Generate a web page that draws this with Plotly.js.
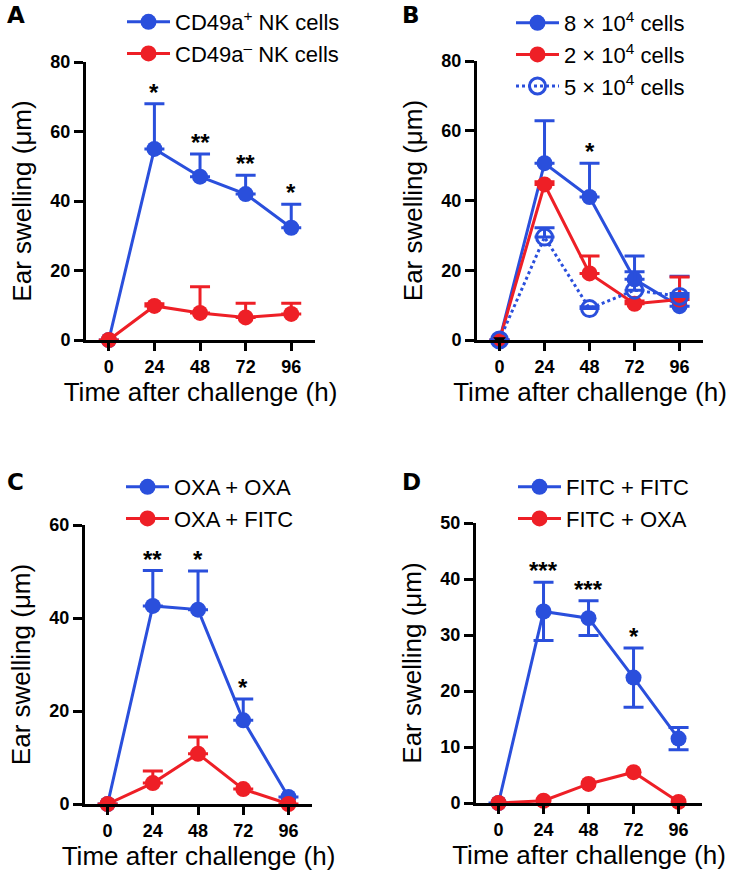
<!DOCTYPE html>
<html>
<head>
<meta charset="utf-8">
<script src="https://cdn.plot.ly/plotly-3.0.1.min.js"></script>
<style>html,body{margin:0;padding:0;background:#fff}#chart{width:738px;height:879px}</style>
</head>
<body>
<div id="chart"></div>
<script>
// ---------- data ----------
const hours = [0, 24, 48, 72, 96];
const hourTicks = ['0', '24', '48', '72', '96'];

// Panel A
const aNames = ['CD49a<sup>+</sup> NK cells', 'CD49a<sup>–</sup> NK cells'];
const aPos = [0, 55, 47, 42, 32.3];
const aPosErr = [0, 13, 6.5, 5.4, 6.8];
const aNeg = [0, 9.8, 7.8, 6.5, 7.5];
const aNegErr = [0, 0.6, 7.5, 4.1, 3.1];
const aStars = ['', '*', '**', '**', '*'];
const aTicks = [0, 20, 40, 60, 80];

// Panel B
const bNames = ['8 × 10<sup>4</sup> cells', '2 × 10<sup>4</sup> cells', '5 × 10<sup>4</sup> cells'];
const b8 = [0, 50.7, 41, 17.4, 9.7];
const b8Err = [0, 12.2, 9.7, 6.7, 8.6];
const b2 = [0, 44.6, 19.1, 10.4, 11.6];
const b2Err = [0, 0.8, 5, 0.8, 6.5];
const b5 = [0, 29.5, 9, 14.3, 12.5];
const b5Err = [0, 2.7, 0.5, 5.3, 0.8];
const bTriX = [0];
const bTriY = [0];
const bStars = ['', '', '*', '', ''];
const bTicks = [0, 20, 40, 60, 80];

// Panel C
const cNames = ['OXA + OXA', 'OXA + FITC'];
const c1 = [0, 42.6, 41.8, 18, 1.5];
const c1Err = [0, 7.6, 8.3, 4.6, 0];
const c2 = [0, 4.5, 10.8, 3.2, 0];
const c2Err = [0, 2.6, 3.6, 0, 0];
const cStars = ['', '**', '*', '*', ''];
const cTicks = [0, 20, 40, 60];

// Panel D
const dNames = ['FITC + FITC', 'FITC + OXA'];
const d1 = [0, 34.2, 33, 22.4, 11.5];
const d1Err = [0, 5.2, 3.1, 5.3, 2];
const d2 = [0, 0.4, 3.4, 5.5, 0.2];
const dStars = ['', '***', '***', '*', ''];
const dTicks = [0, 10, 20, 30, 40, 50];

const panelLetters = ['A', 'B', 'C', 'D'];

// ---------- style ----------
const BLUE = '#2a4fdc';
const RED = '#ee1f26';
const W = 738, H = 879;
const FONT = 'Liberation Sans, Arial, sans-serif';

function ser(x, y, err, color, name, xa, ya, legend, opts) {
  opts = opts || {};
  const t = {
    type: 'scatter', mode: 'lines+markers', x: x, y: y, name: name,
    xaxis: xa, yaxis: ya, legend: legend, cliponaxis: false,
    line: {color: color, width: 3, dash: opts.dash || 'solid'},
    marker: {color: color, size: 16, symbol: opts.open ? 'circle-open' : 'circle',
             line: {color: color, width: opts.open ? 3 : 0}},
    showlegend: true
  };
  if (err) {
    t.error_y = {type: 'data', array: err, symmetric: !!opts.sym,
                 arrayminus: opts.sym ? err : err.map(() => 0),
                 color: color, thickness: 3, width: 10};
  }
  return t;
}

const traces = [
  ser(hours, aPos, aPosErr, BLUE, aNames[0], 'x', 'y', 'legend'),
  ser(hours, aNeg, aNegErr, RED, aNames[1], 'x', 'y', 'legend'),

  ser(hours, b8, b8Err, BLUE, bNames[0], 'x2', 'y2', 'legend2'),
  ser(hours, b2, b2Err, RED, bNames[1], 'x2', 'y2', 'legend2'),
  ser(hours, b5, b5Err, BLUE, bNames[2], 'x2', 'y2', 'legend2', {dash: 'dot', open: true}),
  {type: 'scatter', mode: 'markers', x: bTriX, y: bTriY, xaxis: 'x2', yaxis: 'y2', showlegend: false,
   cliponaxis: false, marker: {symbol: 'triangle-down', color: 'black', size: 11}},

  ser(hours, c1, c1Err, BLUE, cNames[0], 'x3', 'y3', 'legend3'),
  ser(hours, c2, c2Err, RED, cNames[1], 'x3', 'y3', 'legend3'),

  ser(hours, d1, d1Err, BLUE, dNames[0], 'x4', 'y4', 'legend4', {sym: true}),
  ser(hours, d2, null, RED, dNames[1], 'x4', 'y4', 'legend4')
];

function xAxis(x0, x1, anchor) {
  return {
    domain: [x0 / W, x1 / W], anchor: anchor, range: [-12, 108.5],
    tickmode: 'array', tickvals: hours, ticktext: hourTicks,
    showline: true, linewidth: 3, linecolor: 'black', mirror: false,
    ticks: 'outside', ticklen: 8, tickwidth: 3, tickcolor: 'black',
    showgrid: false, zeroline: false,
    tickfont: {family: FONT, size: 18, weight: 'bold', color: 'black'},
    title: {text: 'Time after challenge (h)', font: {family: FONT, size: 26, color: 'black'}, standoff: 6},
    automargin: true, fixedrange: true
  };
}
function yAxis(yb, yt, top, ticks, anchor) {
  return {
    domain: [1 - yb / H, 1 - yt / H], anchor: anchor, range: [0, top],
    tickmode: 'array', tickvals: ticks,
    showline: true, linewidth: 3, linecolor: 'black',
    ticks: 'outside', ticklen: 9, tickwidth: 3, tickcolor: 'black',
    showgrid: false, zeroline: false,
    tickfont: {family: FONT, size: 18, weight: 'bold', color: 'black'},
    title: {text: 'Ear swelling (μm)', font: {family: FONT, size: 26, color: 'black'}, standoff: 12},
    automargin: true, fixedrange: true
  };
}

function legendAt(px, py) {
  return {
    x: px / W, y: 1 - py / H, xanchor: 'left', yanchor: 'top',
    bgcolor: 'rgba(0,0,0,0)', borderwidth: 0, itemwidth: 43,
    font: {family: FONT, size: 22, color: 'black'}, tracegroupgap: 0
  };
}

const annotations = [];
function stars(list, vals, errs, xa, ya) {
  list.forEach((s, i) => {
    if (!s) return;
    annotations.push({
      x: hours[i], y: vals[i] + errs[i], xref: xa, yref: ya, text: s,
      showarrow: false, yanchor: 'bottom', yshift: -4,
      font: {family: FONT, size: 24, weight: 'bold', color: 'black'}
    });
  });
}
stars(aStars, aPos, aPosErr, 'x', 'y');
stars(bStars, b8, b8Err, 'x2', 'y2');
stars(cStars, c1, c1Err, 'x3', 'y3');
stars(dStars, d1, d1Err, 'x4', 'y4');

const letterPos = [[5, 0], [400, 0], [5, 467], [400, 467]];
panelLetters.forEach((L, i) => {
  annotations.push({
    text: '<b>' + L + '</b>', xref: 'paper', yref: 'paper',
    x: letterPos[i][0] / W, y: 1 - letterPos[i][1] / H, xanchor: 'left', yanchor: 'top',
    showarrow: false, font: {family: 'DejaVu Sans, sans-serif', size: 23, color: 'black'}
  });
});

const layout = {
  width: W, height: H, margin: {l: 0, r: 0, t: 0, b: 0, autoexpand: false},
  paper_bgcolor: 'white', plot_bgcolor: 'rgba(0,0,0,0)',
  showlegend: true,
  xaxis: xAxis(86, 315, 'y'),
  yaxis: yAxis(340, 62, 80, aTicks, 'x'),
  xaxis2: xAxis(477, 703, 'y2'),
  yaxis2: yAxis(340, 61, 80, bTicks, 'x2'),
  xaxis3: xAxis(85, 312, 'y3'),
  yaxis3: yAxis(804, 525, 60, cTicks, 'x3'),
  xaxis4: xAxis(476, 702, 'y4'),
  yaxis4: yAxis(803, 523, 50, dTicks, 'x4'),
  legend: legendAt(122, 1),
  legend2: legendAt(511, 2),
  legend3: legendAt(121, 466),
  legend4: legendAt(513, 466),
  annotations: annotations
};

Plotly.newPlot('chart', traces, layout, {staticPlot: true, displayModeBar: false});
</script>
</body>
</html>
